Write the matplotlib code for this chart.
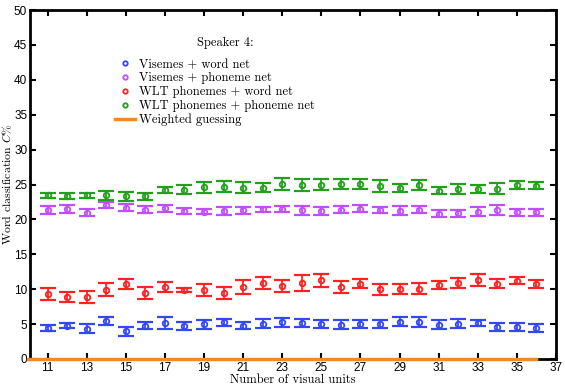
import matplotlib
matplotlib.use('Agg')
import matplotlib.pyplot as plt
import numpy as np

# Datos (Speaker 4)
unidades = list(range(11, 37))

vis_word = [4.44, 4.78, 4.35, 5.44, 3.96, 4.73, 5.21, 4.73, 4.97, 5.25, 4.78, 5.06, 5.25,
            5.16, 5.01, 4.92, 4.97, 4.97, 5.35, 5.30, 4.92, 5.06, 5.11, 4.63, 4.60, 4.44]
vis_word_err = [0.40, 0.36, 0.64, 0.64, 0.62, 0.50, 0.86, 0.55, 0.62, 0.52, 0.50, 0.67, 0.69,
                0.60, 0.64, 0.64, 0.60, 0.60, 0.62, 0.67, 0.60, 0.67, 0.45, 0.55, 0.57, 0.52]

vis_phon = [21.40, 21.50, 20.97, 22.06, 21.70, 21.35, 21.63, 21.20, 21.10, 21.20, 21.30, 21.45, 21.50,
            21.30, 21.20, 21.40, 21.50, 21.40, 21.25, 21.40, 20.82, 20.86, 21.10, 21.35, 21.00, 21.00]
vis_phon_err = [0.57, 0.60, 0.48, 0.45, 0.48, 0.50, 0.50, 0.48, 0.38, 0.52, 0.48, 0.36, 0.48,
                0.62, 0.62, 0.48, 0.50, 0.43, 0.60, 0.52, 0.50, 0.48, 0.62, 0.67, 0.48, 0.45]

wlt_word = [9.31, 8.88, 8.83, 9.93, 10.79, 9.46, 10.27, 9.89, 9.85, 9.41, 10.31, 10.93, 10.50,
            10.89, 11.27, 10.27, 10.79, 9.98, 9.98, 10.08, 10.65, 10.93, 11.36, 10.79, 11.22, 10.70]
wlt_word_err = [0.79, 0.67, 0.84, 0.95, 0.72, 0.81, 0.72, 0.33, 0.84, 0.86, 0.98, 0.88, 0.88,
                1.10, 0.95, 0.88, 0.60, 0.81, 0.72, 0.79, 0.57, 0.72, 0.88, 0.62, 0.52, 0.57]

wlt_phon = [23.45, 23.40, 23.45, 23.45, 23.30, 23.30, 24.20, 24.25, 24.60, 24.70, 24.55, 24.55, 25.07,
            24.93, 24.97, 25.10, 25.07, 24.78, 24.45, 24.93, 24.12, 24.36, 24.36, 24.40, 24.93, 24.85]
wlt_phon_err = [0.38, 0.43, 0.38, 0.64, 0.62, 0.48, 0.48, 0.62, 0.76, 0.76, 0.76, 0.60, 0.90,
                0.84, 0.79, 0.76, 0.74, 0.81, 0.57, 0.67, 0.55, 0.72, 0.60, 0.81, 0.55, 0.48]

unidades_guess = [10, 36]
guess = [0.0, 0.0]

etiquetas = ['Visemes + word net', 'Visemes + phoneme net',
             'WLT phonemes + word net', 'WLT phonemes + phoneme net']
colores = ['#3347f5', '#c24cff', '#ff2222', '#22a01c']

plt.rcParams['mathtext.fontset'] = 'cm'
plt.rcParams['axes.unicode_minus'] = False

fig = plt.figure(figsize=(5.65, 3.86), dpi=100)
ax = fig.add_axes([0.053, 0.07, 0.931, 0.904])

series = [(vis_word, vis_word_err), (vis_phon, vis_phon_err),
          (wlt_word, wlt_word_err), (wlt_phon, wlt_phon_err)]
for (vals, errs), col, lab in zip(series, colores, etiquetas):
    ax.errorbar(unidades, vals, yerr=errs, fmt='none', ecolor=col, elinewidth=1.3,
                capsize=6, capthick=1.6, zorder=3)
    ax.plot(unidades, vals, 'o', color=col, mfc='none', ms=4, mew=1.3, label=lab, zorder=4)

ax.plot(unidades_guess, guess, '-', color='#f08a24', lw=2.5, label='Weighted guessing',
        zorder=5, clip_on=False)

ax.set_xlim(10.1, 37)
ax.set_ylim(0, 50)
ax.set_xticks(range(11, 38, 2))
ax.set_yticks(range(0, 51, 5))
for s in ax.spines.values():
    s.set_linewidth(2)
ax.tick_params(direction='in', length=4, width=1.5, top=True, right=True,
               labelsize=8.5, pad=2)
for lbl in ax.get_xticklabels() + ax.get_yticklabels():
    lbl.set_fontfamily('Liberation Sans')

ax.set_xlabel('Number of visual units', family='cmr10', fontsize=9, labelpad=0)
ax.set_ylabel(r'Word classification $C\%$', family='cmr10', fontsize=8.5, labelpad=0)

# titulo de la leyenda aparte para separar como en el original
ax.text(0.371, 0.905, 'Speaker 4:', transform=ax.transAxes, ha='center', va='center',
        family='cmr10', fontsize=9)
leg = ax.legend(loc='upper left', bbox_to_anchor=(0.141, 0.893), frameon=False,
                prop={'family': 'cmr10', 'size': 9}, markerscale=0.8,
                handlelength=1.6, handletextpad=0.3, labelspacing=0.12)

fig.savefig('out.png', dpi=100)
